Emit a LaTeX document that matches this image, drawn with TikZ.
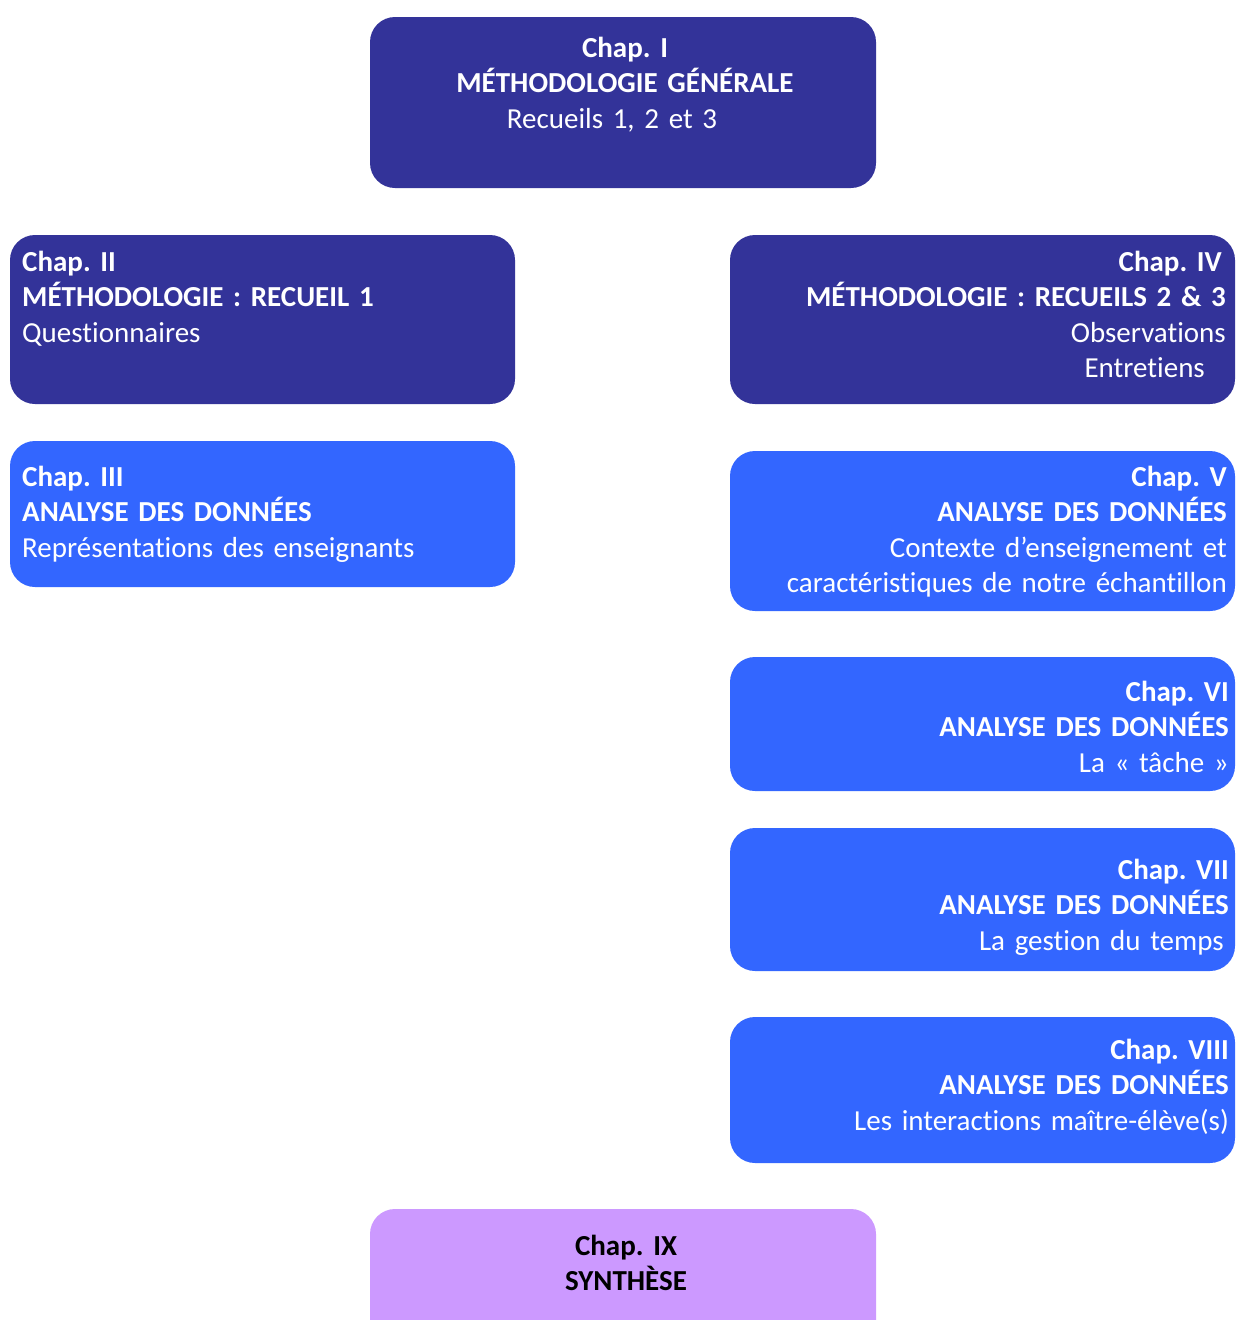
\documentclass[tikz,border=0pt]{standalone}
\usepackage{fontspec}
\setmainfont{Carlito}[Ligatures=NoCommon]
\frenchspacing
\definecolor{dk}{HTML}{333399}
\definecolor{bl}{HTML}{3366FF}
\definecolor{pu}{HTML}{CC99FF}
\tikzset{
  box/.style={rounded corners=25pt, inner sep=0pt, draw=none},
  txt/.style={inner sep=0pt, text width=480pt, font=\fontsize{29}{35.5}\selectfont\frenchspacing, text=white},
  rtxt/.style={txt, align=right, anchor=base east},
  ltxt/.style={txt, align=left, anchor=base west},
  ctxt/.style={txt, align=center, anchor=base},
}
\begin{document}
\begin{tikzpicture}[x=1pt,y=-1pt]
\useasboundingbox (0,0) rectangle (1235,1320);
% boxes
\fill[box, dk] (370,17) rectangle (876,188);
\node[inner sep=0, minimum width=506pt, minimum height=171pt] (b1) at (623,102.5) {};
\fill[box, dk] (10,235) rectangle (515,404);
\node[inner sep=0, minimum width=505pt, minimum height=169pt] (b2) at (262.5,319.5) {};
\fill[box, dk] (730,235) rectangle (1235,404);
\node[inner sep=0, minimum width=505pt, minimum height=169pt] (b4) at (982.5,319.5) {};
\fill[box, bl] (10,441) rectangle (515,587);
\node[inner sep=0, minimum width=505pt, minimum height=146pt] (b3) at (262.5,514) {};
\fill[box, bl] (730,451) rectangle (1235,611);
\node[inner sep=0, minimum width=505pt, minimum height=160pt] (b5) at (982.5,531) {};
\fill[box, bl] (730,657) rectangle (1235,791);
\node[inner sep=0, minimum width=505pt, minimum height=134pt] (b6) at (982.5,724) {};
\fill[box, bl] (730,828) rectangle (1235,971);
\node[inner sep=0, minimum width=505pt, minimum height=143pt] (b7) at (982.5,899.5) {};
\fill[box, bl] (730,1017) rectangle (1235,1163);
\node[inner sep=0, minimum width=505pt, minimum height=146pt] (b8) at (982.5,1090) {};
\fill[box, pu] (370,1209) rectangle (876,1345);
\node[inner sep=0, minimum width=506pt, minimum height=136pt] (b9) at (623,1277) {};
% texts
\node[ctxt] (t1) at (625,57) {\textbf{Chap. I}\\\textbf{MÉTHODOLOGIE GÉNÉRALE}\\Recueils 1, 2 et 3\kern26pt\mbox{}};
\node[ltxt] (t2) at (22,271) {\textbf{Chap. II}\\\textbf{MÉTHODOLOGIE : RECUEIL 1}\\Questionnaires};
\node[rtxt] (t4) at (1226,271) {\textbf{Chap. IV}\kern4pt\mbox{}\\\textbf{MÉTHODOLOGIE : RECUEILS 2 \& 3}\\Observations\\Entretiens\kern21pt\mbox{}};
\node[ltxt] (t3) at (22,486) {\textbf{Chap. III}\\\textbf{ANALYSE DES DONNÉES}\\Représentations des enseignants};
\node[rtxt] (t5) at (1227,486) {\textbf{Chap. V}\\\textbf{ANALYSE DES DONNÉES}\\Contexte d’enseignement et\\caractéristiques de notre échantillon};
\node[rtxt] (t6) at (1229,701) {\textbf{Chap. VI}\\\textbf{ANALYSE DES DONNÉES}\\La « tâche »};
\node[rtxt] (t7) at (1229,879) {\textbf{Chap. VII}\\\textbf{ANALYSE DES DONNÉES}\\La gestion du temps\kern5pt\mbox{}};
\node[rtxt] (t8) at (1229,1059) {\textbf{Chap. VIII}\\\textbf{ANALYSE DES DONNÉES}\\Les interactions maître-élève(s)};
\node[ctxt, text=black] (t9) at (626,1255) {\textbf{Chap. IX}\\\textbf{SYNTHÈSE}};
\end{tikzpicture}
\end{document}
